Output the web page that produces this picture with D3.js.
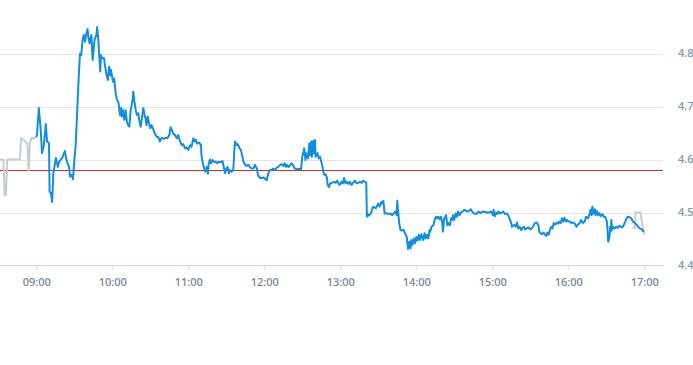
<!DOCTYPE html>
<html>
<head>
<meta charset="utf-8">
<script src="https://cdn.jsdelivr.net/npm/d3@7"></script>
<style>
  html, body { margin: 0; padding: 0; background: #fff; }
  svg { display: block; font-family: "Open Sans", "Noto Sans", sans-serif; }
</style>
</head>
<body>
<svg id="chart" width="693" height="365"></svg>
<script>
// Minutes after 09:00 and prices
const preMinutes = [-30, -26, -25, -24, -23, -13, -12, -9, -7, -6, -5, -4, 0];
const preValues  = [4.60, 4.60, 4.533, 4.533, 4.60, 4.60, 4.64, 4.635, 4.63, 4.58, 4.63, 4.64, 4.64];

const mainMinutes = [
  0, 0.5, 2, 3.5, 4.5, 6, 7.5, 8.5, 10, 10.5, 11.5, 12.5, 13.5, 15.5, 17, 18, 20.5, 22.5, 23.5, 25,
  26, 26.5, 28, 29, 30, 31, 32, 33.5, 34.5, 35.5, 36.5, 37.5, 38.5, 39, 40.5, 41, 42, 43.5, 44.5, 46,
  47.5, 48, 49, 49.5, 50.5, 51, 52, 53.5, 54, 55.5, 56.5, 57.5, 58.5, 59, 60.5, 61.5, 62.5, 63.5, 65, 66,
  67, 67.5, 68.5, 69.5, 70.5, 71.5, 72.5, 73.5, 74.5, 76, 76.5, 77.5, 78.5, 79.5, 80.5, 81.5, 82.5, 83.5, 84.5, 85.5,
  86.5, 87, 88, 89, 90, 91, 92.5, 93.5, 95, 96.5, 97.5, 99, 100.5, 102, 103.5, 105, 106, 107, 108, 109.5,
  111, 112, 113.5, 115, 116, 117.5, 118.5, 120, 121.5, 122.5, 124, 125, 126, 127, 128.5, 130, 130.5, 131.5, 132.5, 133.5,
  134.5, 135.5, 136, 137, 138, 139, 140.5, 141.5, 143, 144, 145.5, 147, 148, 149, 150, 151, 152, 153, 154, 155.5,
  156.5, 157, 158, 159, 160.5, 161.5, 162.5, 163.5, 165, 166, 167.5, 168.5, 170, 171.5, 172.5, 174, 175, 176.5, 178, 179.5,
  181, 182, 183, 184.5, 186, 187, 188.5, 190, 191, 192.5, 193.5, 195, 196, 197, 198, 199, 200, 201.5, 203, 204,
  206, 207.5, 209, 210, 211, 211.5, 212.5, 213, 214.5, 215.5, 216, 217, 217.5, 218.5, 219, 220, 220.5, 222, 223, 224,
  225, 226, 226.5, 227.5, 228.5, 229.5, 230, 231, 232, 233.5, 235, 236.5, 237.5, 238.5, 239.5, 241, 242, 243, 244, 245,
  246.5, 247.5, 249, 250, 251.5, 253, 254, 255.5, 257, 258, 259.5, 260.5, 261, 261.5, 262.5, 264, 266, 268, 270, 271,
  272.5, 273, 274, 275, 275.5, 277, 278.5, 279.5, 281, 282, 283.5, 284.5, 285, 285.5, 286.5, 287.5, 288.5, 290, 291, 292.5,
  293, 293.5, 294.5, 295.5, 296, 297, 298, 299, 300, 301, 302, 303, 304, 305.5, 306.5, 307.5, 308.5, 309.5, 310.5, 311,
  312, 313.5, 314.5, 315.5, 316.5, 317.5, 318.5, 319.5, 320.5, 321, 322, 323, 323.5, 324.5, 325.5, 326.5, 327.5, 328.5, 329, 330,
  331, 332, 333, 334, 335, 336.5, 338, 340, 341.5, 343, 344, 345.5, 346.5, 347.5, 349, 350.5, 353, 355.5, 357.5, 359,
  360.5, 361, 362, 363, 364, 365, 366, 367.5, 368.5, 370, 371.5, 372.5, 374, 375, 375.5, 376.5, 377.5, 378.5, 379.5, 380.5,
  381.5, 383, 384, 385, 386, 387, 388.5, 390, 391, 392.5, 393.5, 395, 396.5, 397, 398, 399, 400.5, 401.5, 402.5, 403.5,
  404.5, 405.5, 406.5, 407.5, 408.5, 409.5, 411, 412, 413, 414, 415, 416, 417, 418, 419, 420, 421.5, 422.5, 424, 425,
  426.5, 427.5, 429, 430, 431.5, 433, 434, 435.5, 437, 437.5, 438.5, 439, 440, 441, 441.5, 442.5, 443.5, 444.5, 445.5, 447,
  448, 449, 450, 450.5, 451.5, 452.5, 453, 453.5, 454, 454.5, 455.5, 456.5, 458, 459, 460.5, 462, 463, 464.5, 466, 467,
  468.5, 470, 471, 472.5, 474, 475, 476.5, 478, 479, 480
];
const mainValues = [
  4.642, 4.646, 4.697, 4.656, 4.612, 4.627, 4.667, 4.634, 4.631, 4.539, 4.537, 4.520, 4.575, 4.603, 4.586, 4.596, 4.603, 4.616, 4.603, 4.590,
  4.586, 4.568, 4.571, 4.563, 4.599, 4.624, 4.675, 4.756, 4.800, 4.797, 4.825, 4.835, 4.822, 4.832, 4.846, 4.832, 4.819, 4.835, 4.788, 4.826,
  4.835, 4.850, 4.826, 4.803, 4.766, 4.797, 4.791, 4.791, 4.781, 4.759, 4.750, 4.775, 4.759, 4.769, 4.747, 4.753, 4.728, 4.715, 4.706, 4.684,
  4.697, 4.681, 4.693, 4.675, 4.693, 4.671, 4.665, 4.662, 4.693, 4.712, 4.728, 4.709, 4.693, 4.684, 4.687, 4.671, 4.662, 4.681, 4.697, 4.684,
  4.675, 4.665, 4.681, 4.668, 4.659, 4.665, 4.656, 4.649, 4.643, 4.642, 4.634, 4.641, 4.639, 4.641, 4.640, 4.646, 4.661, 4.656, 4.649, 4.646,
  4.640, 4.646, 4.634, 4.627, 4.629, 4.621, 4.623, 4.618, 4.627, 4.624, 4.640, 4.634, 4.637, 4.630, 4.632, 4.627, 4.605, 4.593, 4.583, 4.577,
  4.586, 4.573, 4.590, 4.600, 4.593, 4.599, 4.595, 4.596, 4.593, 4.596, 4.595, 4.597, 4.586, 4.574, 4.583, 4.586, 4.574, 4.580, 4.577, 4.580,
  4.624, 4.634, 4.627, 4.629, 4.621, 4.618, 4.608, 4.596, 4.590, 4.588, 4.590, 4.586, 4.583, 4.583, 4.590, 4.584, 4.571, 4.565, 4.565, 4.566,
  4.563, 4.561, 4.573, 4.580, 4.580, 4.583, 4.580, 4.585, 4.586, 4.590, 4.591, 4.588, 4.593, 4.586, 4.590, 4.586, 4.588, 4.593, 4.588, 4.583,
  4.582, 4.582, 4.582, 4.605, 4.615, 4.621, 4.599, 4.612, 4.602, 4.630, 4.608, 4.634, 4.605, 4.635, 4.612, 4.637, 4.605, 4.612, 4.602, 4.605,
  4.596, 4.586, 4.577, 4.571, 4.572, 4.565, 4.552, 4.548, 4.555, 4.556, 4.558, 4.556, 4.560, 4.556, 4.552, 4.558, 4.555, 4.565, 4.555, 4.558,
  4.554, 4.558, 4.552, 4.556, 4.560, 4.555, 4.556, 4.558, 4.556, 4.560, 4.558, 4.556, 4.492, 4.498, 4.494, 4.498, 4.511, 4.508, 4.517, 4.511,
  4.520, 4.517, 4.522, 4.498, 4.499, 4.498, 4.497, 4.498, 4.495, 4.498, 4.502, 4.495, 4.522, 4.505, 4.480, 4.467, 4.466, 4.467, 4.461, 4.454,
  4.442, 4.431, 4.445, 4.432, 4.448, 4.439, 4.451, 4.442, 4.454, 4.447, 4.458, 4.448, 4.459, 4.448, 4.461, 4.451, 4.458, 4.451, 4.467, 4.464,
  4.473, 4.476, 4.486, 4.492, 4.489, 4.492, 4.487, 4.492, 4.480, 4.464, 4.489, 4.492, 4.495, 4.476, 4.480, 4.476, 4.489, 4.486, 4.495, 4.486,
  4.498, 4.492, 4.502, 4.495, 4.499, 4.502, 4.505, 4.502, 4.503, 4.506, 4.502, 4.498, 4.498, 4.497, 4.502, 4.499, 4.502, 4.500, 4.500, 4.502,
  4.495, 4.505, 4.493, 4.500, 4.497, 4.502, 4.498, 4.500, 4.502, 4.497, 4.498, 4.495, 4.486, 4.480, 4.473, 4.475, 4.477, 4.473, 4.481, 4.470,
  4.473, 4.467, 4.472, 4.473, 4.468, 4.470, 4.472, 4.468, 4.470, 4.475, 4.480, 4.481, 4.475, 4.464, 4.461, 4.459, 4.462, 4.458, 4.456, 4.462,
  4.458, 4.467, 4.473, 4.470, 4.480, 4.477, 4.481, 4.479, 4.483, 4.480, 4.489, 4.483, 4.490, 4.483, 4.486, 4.483, 4.483, 4.480, 4.481, 4.480,
  4.473, 4.477, 4.480, 4.486, 4.480, 4.483, 4.492, 4.489, 4.498, 4.505, 4.495, 4.511, 4.498, 4.506, 4.495, 4.503, 4.495, 4.499, 4.493, 4.497,
  4.492, 4.492, 4.486, 4.483, 4.445, 4.454, 4.473, 4.464, 4.486, 4.467, 4.473, 4.470, 4.473, 4.471, 4.475, 4.472, 4.473, 4.480, 4.489, 4.492,
  4.491, 4.488, 4.483, 4.480, 4.477, 4.473, 4.470, 4.468, 4.465, 4.466
];

const postMinutes = [470.5, 472.5, 473, 477, 479, 480];
const postValues  = [4.471, 4.471, 4.500, 4.500, 4.468, 4.458];

const previousClose = 4.58;
const yTicks = [4.4, 4.5, 4.6, 4.7, 4.8];
const xTickLabels = ["09:00", "10:00", "11:00", "12:00", "13:00", "14:00", "15:00", "16:00", "17:00"];

// ---- drawing ----
const svg = d3.select("#chart");
const base = new Date(2024, 0, 2, 9, 0, 0);
const toDate = m => new Date(base.getTime() + m * 60000);
const parseHM = d3.timeParse("%H:%M");
const hmDate = s => { const p = parseHM(s); return new Date(2024, 0, 2, p.getHours(), p.getMinutes()); };

const x = d3.scaleTime()
  .domain([new Date(2024, 0, 2, 8, 30), new Date(2024, 0, 2, 17, 15)])
  .range([-1.7, 663.3]);
const y = d3.scaleLinear().domain([4.4, 4.9]).range([265.5, 0.5]);

const plotRight = 663;

// grid
svg.append("g").selectAll("line").data(yTicks.slice(1)).join("line")
  .attr("x1", 0).attr("x2", plotRight)
  .attr("y1", d => Math.round(y(d)) + 0.5).attr("y2", d => Math.round(y(d)) + 0.5)
  .attr("stroke", "#e6e6e6").attr("stroke-width", 1);

// y labels
svg.append("g").selectAll("text").data(yTicks).join("text")
  .attr("x", 678).attr("y", d => y(d)).attr("dy", "0.35em")
  .attr("fill", "#8a96a6").attr("font-size", 11).attr("font-weight", 600)
  .text(d => d.toFixed(1));

// x axis
const tickDates = xTickLabels.map(hmDate);
const xAxis = d3.axisBottom(x).tickValues(tickDates).tickFormat(d3.timeFormat("%H:%M")).tickSize(5).tickSizeOuter(0);
const gx = svg.append("g").attr("transform", "translate(0,265)").call(xAxis);
gx.select(".domain").attr("stroke", "#ccd6eb").attr("d", `M0,0.5H${plotRight}`);
gx.selectAll(".tick line").attr("stroke", "#ccd6eb");
gx.selectAll(".tick text").attr("fill", "#7d8a99").attr("font-size", 11).attr("font-weight", 600)
  .attr("font-family", "'Open Sans', sans-serif").attr("dy", "1.2em");

const line = d3.line().x(d => x(toDate(d[0]))).y(d => y(d[1]));

const clip = svg.append("clipPath").attr("id", "clip").append("rect")
  .attr("x", 0).attr("y", 0).attr("width", plotRight).attr("height", 266);

const lines = svg.append("g").attr("clip-path", "url(#clip)");

// previous close
const yPc = Math.round(y(previousClose)) + 0.5;
lines.append("line")
  .attr("x1", 0).attr("x2", plotRight)
  .attr("y1", yPc).attr("y2", yPc)
  .attr("stroke", "#d42d26").attr("stroke-width", 1);

lines.append("path")
  .datum(preMinutes.map((m, i) => [m, preValues[i]]))
  .attr("fill", "none").attr("stroke", "#c3ccd4").attr("stroke-width", 2)
  .attr("stroke-linejoin", "round").attr("d", line);

lines.append("path")
  .datum(postMinutes.map((m, i) => [m, postValues[i]]))
  .attr("fill", "none").attr("stroke", "#c3ccd4").attr("stroke-width", 2)
  .attr("stroke-linejoin", "round").attr("d", line);

lines.append("path")
  .datum(mainMinutes.map((m, i) => [m, mainValues[i]]))
  .attr("fill", "none").attr("stroke", "#118ee0").attr("stroke-width", 2)
  .attr("stroke-linejoin", "round").attr("d", line);
</script>
</body>
</html>
